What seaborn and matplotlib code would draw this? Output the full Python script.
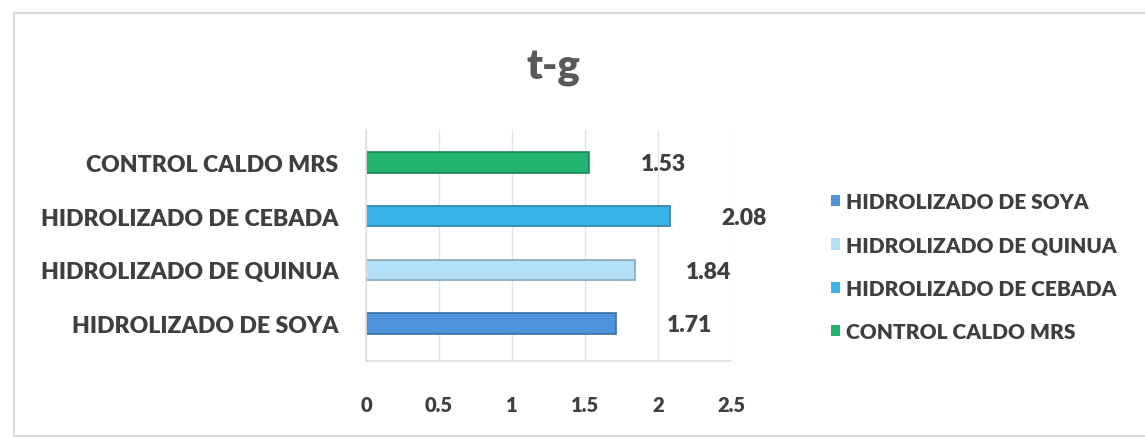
import matplotlib
matplotlib.use("Agg")
import matplotlib.pyplot as plt
from matplotlib.patches import Rectangle, Patch
import seaborn as sns
import pandas as pd

# Data
categories = ["CONTROL CALDO MRS", "HIDROLIZADO DE CEBADA",
              "HIDROLIZADO DE QUINUA", "HIDROLIZADO DE SOYA"]
values = [1.53, 2.08, 1.84, 1.71]
colors = ["#22b46f", "#3ab2ea", "#b3e0f6", "#4f93dc"]
legend_order = ["HIDROLIZADO DE SOYA", "HIDROLIZADO DE QUINUA",
                "HIDROLIZADO DE CEBADA", "CONTROL CALDO MRS"]
x_ticks = [0, 0.5, 1, 1.5, 2, 2.5]
x_ticklabels = ["0", "0.5", "1", "1.5", "2", "2.5"]
title = "t-g"

df = pd.DataFrame({"cat": categories, "val": values})
palette = dict(zip(categories, colors))

sns.set_theme(style="white")
plt.rcParams["font.family"] = ["Lato", "DejaVu Sans"]
text_color = "#3f3f3f"
weight = "heavy"

fig = plt.figure(figsize=(11.45, 4.39), dpi=100)
ax = fig.add_axes([0.3197, 0.175, 0.3188, 0.526])

sns.barplot(data=df, y="cat", x="val", hue="cat", palette=palette,
            order=categories, hue_order=categories, orient="h",
            width=0.38, legend=False, ax=ax, saturation=1)

for patch, c in zip(ax.patches, colors):
    r, g, b = matplotlib.colors.to_rgb(c)
    patch.set_edgecolor((r * 0.75, g * 0.75, b * 0.75))
    patch.set_linewidth(1.2)

ax.set_xlim(0, 2.5)
ax.set_ylim(3.7, -0.6)
ax.set_xticks(x_ticks)
ax.set_xticklabels(x_ticklabels)
ax.set_xlabel("")
ax.set_ylabel("")
ax.grid(axis="x", color="#e3e3e3", linewidth=1)
ax.set_axisbelow(True)
for side in ["top", "right"]:
    ax.spines[side].set_visible(False)
ax.spines["left"].set_color("#e0e0e0")
ax.spines["bottom"].set_color("#e0e0e0")

ax.tick_params(axis="x", pad=24, labelsize=14.5, colors=text_color, length=0)
ax.tick_params(axis="y", pad=20, labelsize=16.6, colors=text_color, length=0)
for lbl in ax.get_xticklabels() + ax.get_yticklabels():
    lbl.set_fontweight(weight)
    lbl.set_color(text_color)

# Value labels
for i, v in enumerate(values):
    ax.annotate(f"{v:.2f}", xy=(v, i), xytext=(37, -1),
                textcoords="offset points", ha="left", va="center",
                fontsize=16.5, fontweight=weight, color=text_color)

# Legend
handles = [Patch(facecolor=palette[c], edgecolor="none", label=c)
           for c in legend_order]
leg = fig.legend(handles=handles, loc="upper left",
                 bbox_to_anchor=(0.709, 0.603), frameon=False,
                 handlelength=0.45, handleheight=0.45, handletextpad=0.3,
                 labelspacing=1.17, prop={"weight": weight, "size": 15})
for t in leg.get_texts():
    t.set_color(text_color)

fig.text(0.483, 0.845, title, ha="center", va="center",
         fontsize=30, fontweight=weight, color="#595959")

# Chart border
fig.add_artist(Rectangle((0.012, 0.005), 0.99, 0.963,
                         transform=fig.transFigure, fill=False,
                         edgecolor="#d9d9d9", linewidth=1.5))

fig.savefig("out.png", dpi=100, facecolor="white")
